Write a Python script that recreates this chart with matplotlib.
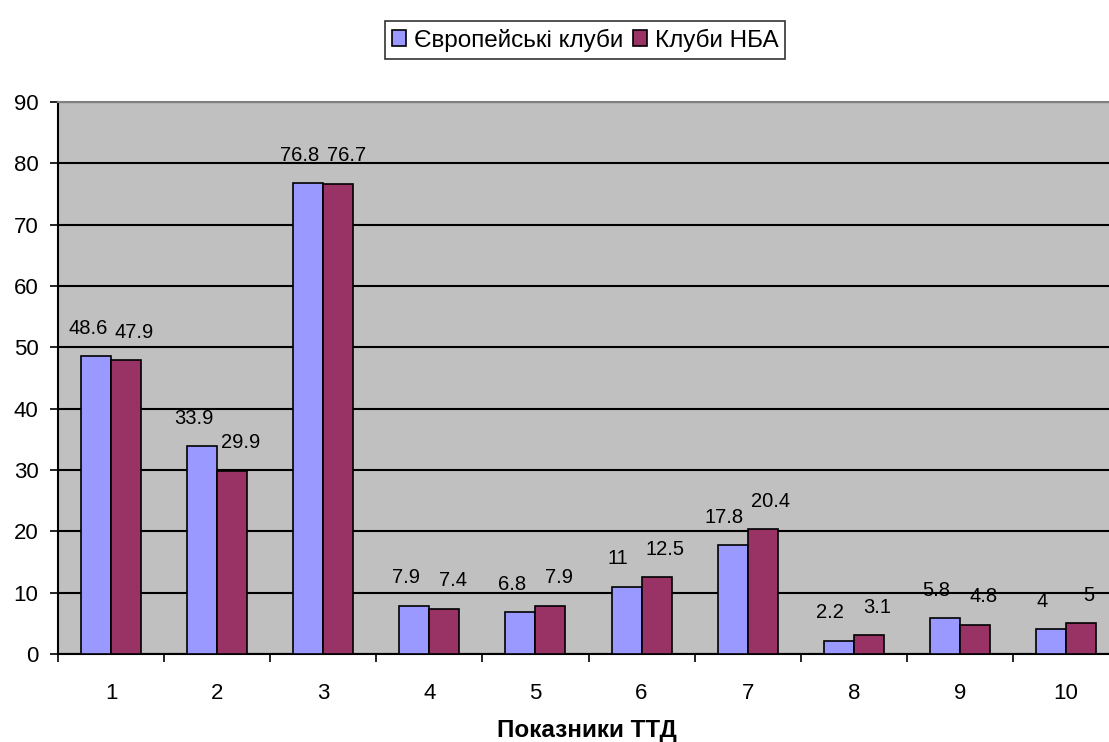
import matplotlib
matplotlib.use("Agg")
import matplotlib.pyplot as plt
import numpy as np

plt.rcParams['font.family'] = ['Liberation Sans', 'DejaVu Sans']

categories = ['1', '2', '3', '4', '5', '6', '7', '8', '9', '10']
european = [48.6, 33.9, 76.8, 7.9, 6.8, 11, 17.8, 2.2, 5.8, 4]
nba = [47.9, 29.9, 76.7, 7.4, 7.9, 12.5, 20.4, 3.1, 4.8, 5]
series_names = ['Європейські клуби', 'Клуби НБА']
y_ticks = [0, 10, 20, 30, 40, 50, 60, 70, 80, 90]
x_label = 'Показники ТТД'

W, H = 1109, 742
fig = plt.figure(figsize=(W / 100, H / 100), dpi=100)
left, right, top, bottom = 58, 1119, 102, 654
ax = fig.add_axes([left / W, 1 - bottom / H, (right - left) / W, (bottom - top) / H])
ax.set_facecolor('#C0C0C0')

x = np.arange(len(categories))
bw = 0.283
ax.bar(x - bw / 2, european, bw, color='#9999FF', edgecolor='black', linewidth=1.2,
       label=series_names[0], zorder=3)
ax.bar(x + bw / 2, nba, bw, color='#993366', edgecolor='black', linewidth=1.2,
       label=series_names[1], zorder=3)

def fmt(v):
    return ('%g' % v)

for xi, v in zip(x, european):
    ax.annotate(fmt(v), (xi - bw / 2, v), xytext=(-6, 20), textcoords='offset points',
                ha='center', va='center', fontsize=14.5, zorder=4)
for xi, v in zip(x, nba):
    ax.annotate(fmt(v), (xi + bw / 2, v), xytext=(6, 20), textcoords='offset points',
                ha='center', va='center', fontsize=14.5, zorder=4)

ax.set_xlim(-0.5, len(categories) - 0.5)
ax.set_ylim(0, 90)
ax.set_yticks(y_ticks)
ax.yaxis.grid(True, color='black', linewidth=1.5, zorder=1)
ax.set_axisbelow(True)

ax.set_xticks(x)
ax.set_xticklabels(categories)
ax.set_xticks(np.arange(-0.5, len(categories), 1.0), minor=True)
ax.tick_params(axis='x', which='major', length=0, pad=21, labelsize=16)
ax.tick_params(axis='x', which='minor', length=6, width=1.2, direction='out')
ax.tick_params(axis='y', length=6, width=1.2, direction='out', pad=8, labelsize=16)

for s in ['left', 'bottom']:
    ax.spines[s].set_color('black')
    ax.spines[s].set_linewidth(1.5)
ax.spines['top'].set_color('#808080')
ax.spines['top'].set_linewidth(1.5)
ax.spines['right'].set_visible(False)

fig.text(587 / W, 1 - 731 / H, x_label, fontsize=17.5, fontweight='bold',
         ha='center', va='center')

leg = fig.legend(loc='center', bbox_to_anchor=(585 / W, 1 - 40 / H), ncol=2,
                 frameon=True, fancybox=False, edgecolor='black', fontsize=17.5,
                 handlelength=0.6, handleheight=0.6, handletextpad=0.3,
                 columnspacing=0.4, borderpad=0.3, borderaxespad=0)
leg.get_frame().set_linewidth(1.2)

fig.savefig('out.png', dpi=100)
